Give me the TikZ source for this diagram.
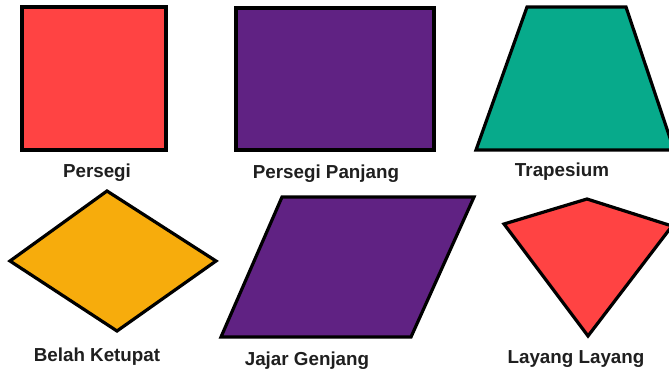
\documentclass[tikz,border=0pt]{standalone}
\usepackage{fontspec}
\setmainfont{Liberation Sans}
\definecolor{cred}{HTML}{FF4343}
\definecolor{cpurple}{HTML}{602283}
\definecolor{cteal}{HTML}{07AA8B}
\definecolor{corange}{HTML}{F7AC0C}
\begin{document}
\begin{tikzpicture}[x=1pt,y=-1pt,
  shapeline/.style={draw=black,line width=3.2pt,line join=miter},
  lbl/.style={anchor=base,inner sep=0pt,font=\fontsize{18.8}{21}\selectfont\bfseries,text=black!88}]
\useasboundingbox (0,0) rectangle (669,371);
\clip (0,0) rectangle (669,371);
\fill[white] (0,0) rectangle (669,371);
% Persegi
\draw[shapeline,fill=cred] (22,7) rectangle (166,150);
\node[lbl] (l1) at (97,178) {Persegi};
% Persegi Panjang
\draw[shapeline,fill=cpurple] (236,8) rectangle (434,150);
\node[lbl] (l2) at (326,179) {Persegi Panjang};
% Trapesium
\draw[shapeline,fill=cteal] (527,7) -- (626,7) -- (674,150) -- (476,150) -- cycle;
\node[lbl] (l3) at (562,177) {Trapesium};
% Belah Ketupat
\draw[shapeline,fill=corange] (107,191) -- (216,261) -- (117,331) -- (10,261) -- cycle;
\node[lbl] (l4) at (97,361) {Belah Ketupat};
% Jajar Genjang
\draw[shapeline,fill=cpurple] (282,197) -- (474,197) -- (411,337) -- (221,337) -- cycle;
\node[lbl] (l5) at (307,365) {Jajar Genjang};
% Layang Layang
\draw[shapeline,fill=cred] (504,224) -- (587,199) -- (672,226) -- (588,336) -- cycle;
\node[lbl] (l6) at (576,363) {Layang Layang};
\end{tikzpicture}
\end{document}
